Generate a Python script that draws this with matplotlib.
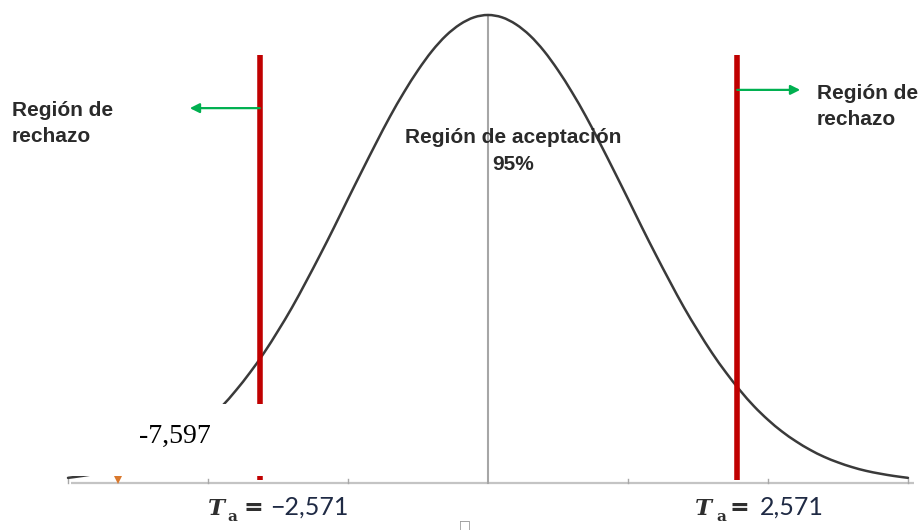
import numpy as np
import matplotlib
matplotlib.use("Agg")
import matplotlib.pyplot as plt
from matplotlib.path import Path
from matplotlib.patches import PathPatch

# ---------------- data ----------------
curve_x = [-3.0, -2.9, -2.8, -2.7, -2.6, -2.5, -2.4, -2.3, -2.2, -2.1,
           -2.0, -1.9, -1.8, -1.7, -1.6, -1.5, -1.4, -1.3, -1.2, -1.1,
           -1.0, -0.9, -0.8, -0.7, -0.6, -0.5, -0.4, -0.3, -0.2, -0.1,
           0.0, 0.1, 0.2, 0.3, 0.4, 0.5, 0.6, 0.7, 0.8, 0.9,
           1.0, 1.1, 1.2, 1.3, 1.4, 1.5, 1.6, 1.7, 1.8, 1.9,
           2.0, 2.1, 2.2, 2.3, 2.4, 2.5, 2.6, 2.7, 2.8, 2.9, 3.0]
curve_y = [0.011, 0.015, 0.020, 0.026, 0.034, 0.044, 0.056, 0.071, 0.089, 0.110,
           0.135, 0.164, 0.198, 0.236, 0.278, 0.325, 0.375, 0.430, 0.487, 0.546,
           0.607, 0.667, 0.726, 0.783, 0.835, 0.882, 0.923, 0.956, 0.980, 0.995,
           1.000, 0.995, 0.980, 0.956, 0.923, 0.882, 0.835, 0.783, 0.726, 0.667,
           0.607, 0.546, 0.487, 0.430, 0.375, 0.325, 0.278, 0.236, 0.198, 0.164,
           0.135, 0.110, 0.089, 0.071, 0.056, 0.044, 0.034, 0.026, 0.020, 0.015, 0.011]
crit_x = [-1.63, 1.78]          # red critical lines as drawn
tick_x = [-3, -2, -1, 1, 2, 3]
crit_labels = ["\u22122,571", "2,571"]
t_stat_label = "-7,597"
accept_label = "Región de aceptación"
accept_pct = "95%"
reject_label = ["Región de", "rechazo"]
marker_x = [-2.64]

# ---------------- figure ----------------
W, H = 923, 530
fig = plt.figure(figsize=(W / 100, H / 100), dpi=100)
fig.patch.set_facecolor("white")
ax = fig.add_axes([0, 0, 1, 1])
X0, PXU = 488, 140.0      # centre pixel, pixels per unit
Y0, PYU = 483, 468.0      # baseline pixel, pixels per unit height
ax.set_xlim(-X0 / PXU, (W - X0) / PXU)
ax.set_ylim((Y0 - H) / PYU, Y0 / PYU)
ax.axis("off")


def fx(x):
    return x / W


def fy(y):
    return 1 - y / H


# baseline and ticks
ax.plot([-2.98, 3.04], [0, 0], color="#c4c4c4", lw=1.6, solid_capstyle="butt", zorder=1)
for t in tick_x:
    ax.plot([t, t], [0, 0.008], color="#a8a8a8", lw=1.0, zorder=1)

# centre line
ax.plot([0, 0], [0, 1.0], color="#a6a6a6", lw=1.5, zorder=1)

# curve: smooth Catmull-Rom path through the read points
P = np.column_stack([curve_x, curve_y])
verts = [P[0]]
codes = [Path.MOVETO]
for i in range(len(P) - 1):
    p0 = P[i - 1] if i > 0 else P[i]
    p1, p2 = P[i], P[i + 1]
    p3 = P[i + 2] if i + 2 < len(P) else P[i + 1]
    c1 = p1 + (p2 - p0) / 6.0
    c2 = p2 - (p3 - p1) / 6.0
    verts += [c1, c2, p2]
    codes += [Path.CURVE4] * 3
ax.add_patch(PathPatch(Path(verts, codes), facecolor="none", edgecolor="#3a3a3a",
                       lw=1.8, zorder=3, capstyle="round", joinstyle="round"))

# red critical lines
for cx in crit_x:
    ax.plot([cx, cx], [0.006, 0.9145], color="#c00000", lw=4.0,
            solid_capstyle="butt", zorder=4)

# white cover box (bottom-left)
ax.add_patch(plt.Rectangle((-3.6, 0.0145), (-1.59 + 3.6), 0.169 - 0.0145,
                           facecolor="white", edgecolor="none", zorder=6))

# orange marker
ax.plot(marker_x, [0.0075], marker="v", color="#d9782d", markersize=7,
        markeredgewidth=0, linestyle="none", zorder=5)

# green arrows
green = "#00b050"
ax.annotate("", xy=(-2.13, 0.801), xytext=(crit_x[0], 0.801),
            arrowprops=dict(arrowstyle="-|>", color=green, lw=1.6,
                            mutation_scale=14, shrinkA=0, shrinkB=0), zorder=5)
ax.annotate("", xy=(2.23, 0.840), xytext=(crit_x[1], 0.840),
            arrowprops=dict(arrowstyle="-|>", color=green, lw=1.6,
                            mutation_scale=14, shrinkA=0, shrinkB=0), zorder=5)

# region texts
tc = "#2a2a2a"
kw = dict(family="Liberation Sans", weight="bold", fontsize=15, color=tc)
fig.text(fx(12), fy(116), reject_label[0], ha="left", va="baseline", **kw)
fig.text(fx(12), fy(142), reject_label[1], ha="left", va="baseline", **kw)
fig.text(fx(817), fy(99), reject_label[0], ha="left", va="baseline", **kw)
fig.text(fx(817), fy(125), reject_label[1], ha="left", va="baseline", **kw)
fig.text(fx(513), fy(143), accept_label, ha="center", va="baseline", zorder=7, **kw)
fig.text(fx(513), fy(170), accept_pct, ha="center", va="baseline", zorder=7, **kw)

# t statistic text
fig.text(fx(175), fy(443), t_stat_label, ha="center", va="baseline",
         family="Liberation Serif", fontsize=20, color="black", zorder=8)

# critical labels
lab_col = "#2e2e2e"
num_col = "#1f2a44"


def crit_label(xT, xa, xeq, xnum, txt):
    fig.text(fx(xT), fy(515), "T", family="DejaVu Serif", weight="bold",
             style="italic", fontsize=16.5, color=lab_col, ha="left", va="baseline")
    fig.text(fx(xa), fy(521), "a", family="DejaVu Serif", weight="bold",
             fontsize=11, color=lab_col, ha="left", va="baseline")
    fig.text(fx(xeq), fy(515), "=", family="DejaVu Sans", weight="bold",
             fontsize=17, color=lab_col, ha="left", va="baseline")
    fig.text(fx(xnum), fy(515), txt, family="Lato", fontsize=18,
             color=num_col, ha="left", va="baseline")


crit_label(208, 227, 244, 270, crit_labels[0])
crit_label(695, 716, 730, 760, crit_labels[1])

# stray glyph at bottom
fig.text(fx(465), fy(518), "\u25a1", family="DejaVu Sans", fontsize=9,
         color="#8a8a8a", ha="center", va="top")

fig.savefig("out.png", dpi=100, facecolor="white")
